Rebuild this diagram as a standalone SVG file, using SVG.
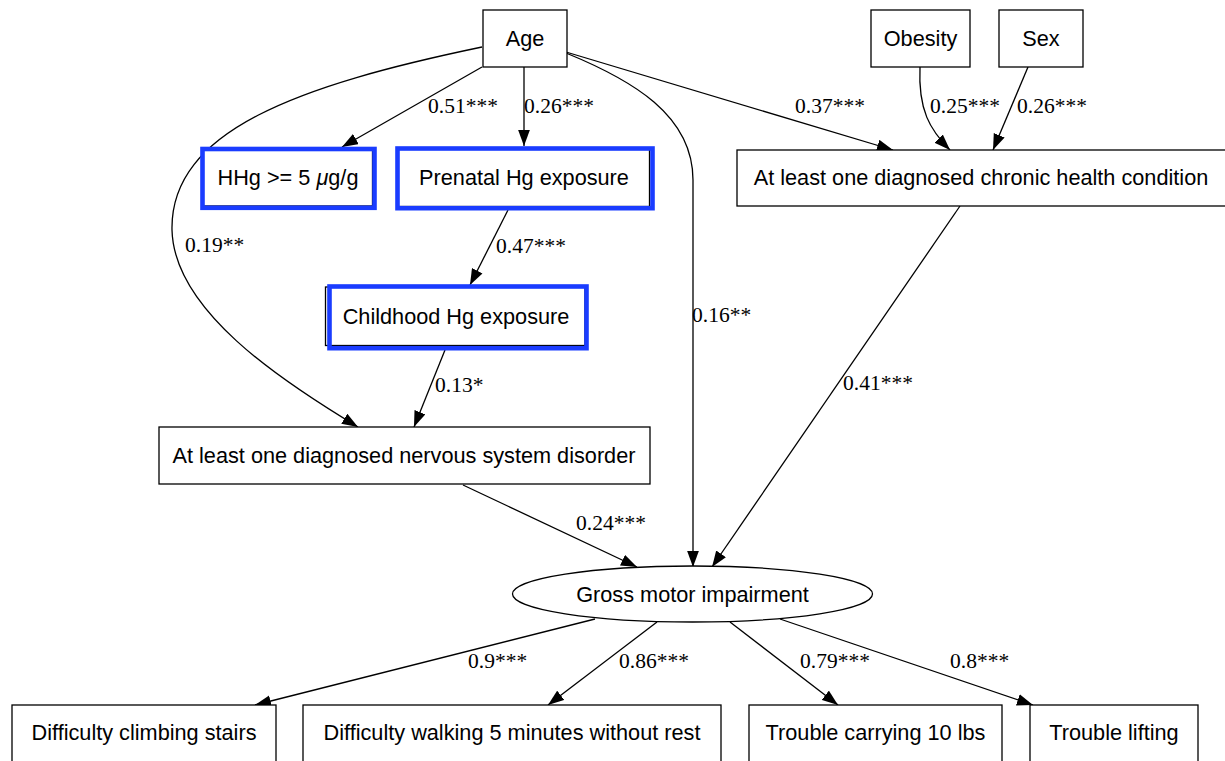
<svg xmlns="http://www.w3.org/2000/svg" width="1225" height="761" viewBox="0 0 1225 761">
  <style>
    .box { fill: #ffffff; stroke: #000000; stroke-width: 1.3; }
    .hg { fill: none; stroke: #1a3cff; stroke-width: 4.6; }
    .lbl { font-family: "Liberation Sans", Arial, sans-serif; font-size: 21.7px; fill: #000000; text-anchor: middle; }
    .edge { fill: none; stroke: #000000; stroke-width: 1.3; marker-end: url(#arrow); }
    .w { font-family: "Liberation Serif", "Times New Roman", serif; font-size: 21.5px; fill: #000000; }
  </style>
  <defs>
    <marker id="arrow" markerUnits="userSpaceOnUse" markerWidth="16" markerHeight="12" viewBox="0 0 15 11" refX="15" refY="5.5" orient="auto">
      <path d="M0,0 L15,5.5 L0,11 z" fill="#000000"/>
    </marker>
  </defs>
  <rect width="1225" height="761" fill="#ffffff"/>

  <!-- connectors with path coefficients -->
  <g id="edges">
    <path class="edge" d="M482,67 L342,147"/>
    <text class="w" x="428" y="113">0.51***</text>
    <path class="edge" d="M524,67 L524,146"/>
    <text class="w" x="524" y="113">0.26***</text>
    <path class="edge" d="M566,52 L893,150"/>
    <text class="w" x="795" y="113">0.37***</text>
    <path class="edge" d="M482,47 C300,85 170,130 172,230 C174,310 280,380 358,427"/>
    <text class="w" x="185" y="252">0.19**</text>
    <path class="edge" d="M566,53 C632,80 693,115 693,180 L693,567"/>
    <text class="w" x="692" y="322">0.16**</text>
    <path class="edge" d="M920,67 C918,110 930,130 950,150"/>
    <text class="w" x="930" y="113">0.25***</text>
    <path class="edge" d="M1028,67 L993,150"/>
    <text class="w" x="1017" y="113">0.26***</text>
    <path class="edge" d="M508,210 L470,285"/>
    <text class="w" x="496" y="253">0.47***</text>
    <path class="edge" d="M445,350 L414,427"/>
    <text class="w" x="435" y="392">0.13*</text>
    <path class="edge" d="M960,206 L712,567"/>
    <text class="w" x="843" y="390">0.41***</text>
    <path class="edge" d="M463,485 L637,567"/>
    <text class="w" x="576" y="530">0.24***</text>
    <path class="edge" d="M595,619 L255,705"/>
    <text class="w" x="468" y="668">0.9***</text>
    <path class="edge" d="M657,622 L548,705"/>
    <text class="w" x="619" y="668">0.86***</text>
    <path class="edge" d="M730,622 L838,705"/>
    <text class="w" x="800" y="668">0.79***</text>
    <path class="edge" d="M780,619 L1033,705"/>
    <text class="w" x="950" y="668">0.8***</text>
  </g>

  <g id="age">
    <rect class="box" x="483" y="10" width="84" height="57"/>
    <text class="lbl" x="525" y="46">Age</text>
  </g>
  <g id="obesity">
    <rect class="box" x="871" y="10" width="99" height="57"/>
    <text class="lbl" x="920.5" y="46">Obesity</text>
  </g>
  <g id="sex">
    <rect class="box" x="999" y="10" width="84" height="57"/>
    <text class="lbl" x="1041" y="46">Sex</text>
  </g>
  <g id="hhg">
    <rect class="box" x="203" y="149" width="169.5" height="57"/>
    <rect class="hg" x="202.5" y="149" width="172" height="58.8"/>
    <text class="lbl" x="288" y="184.5">HHg &gt;= 5 <tspan font-style="italic">μ</tspan>g/g</text>
  </g>
  <g id="prenatal">
    <rect class="box" x="397" y="149" width="252.5" height="57.5"/>
    <rect class="hg" x="397.5" y="148.5" width="255" height="59.7"/>
    <text class="lbl" x="524" y="184.5">Prenatal Hg exposure</text>
  </g>
  <g id="childhood">
    <rect class="box" x="325.5" y="287" width="259.5" height="58.5"/>
    <rect class="hg" x="329.5" y="286.5" width="257" height="61.7"/>
    <text class="lbl" x="456" y="323.5">Childhood Hg exposure</text>
  </g>
  <g id="chronic">
    <rect class="box" x="737" y="150" width="490" height="56"/>
    <text class="lbl" x="981" y="184.5">At least one diagnosed chronic health condition</text>
  </g>
  <g id="nervous">
    <rect class="box" x="159" y="427" width="491" height="57"/>
    <text class="lbl" x="404" y="462.5">At least one diagnosed nervous system disorder</text>
  </g>
  <g id="gross">
    <ellipse class="box" cx="692.5" cy="594" rx="180" ry="28"/>
    <text class="lbl" x="692.5" y="601.5">Gross motor impairment</text>
  </g>
  <g id="stairs">
    <rect class="box" x="12" y="705" width="264" height="57"/>
    <text class="lbl" x="144" y="739.5">Difficulty climbing stairs</text>
  </g>
  <g id="walking">
    <rect class="box" x="303" y="705" width="418" height="57"/>
    <text class="lbl" x="512" y="739.5">Difficulty walking 5 minutes without rest</text>
  </g>
  <g id="carrying">
    <rect class="box" x="749" y="705" width="253" height="57"/>
    <text class="lbl" x="875.5" y="739.5">Trouble carrying 10 lbs</text>
  </g>
  <g id="lifting">
    <rect class="box" x="1030" y="705" width="168" height="57"/>
    <text class="lbl" x="1114" y="739.5">Trouble lifting</text>
  </g>
</svg>
